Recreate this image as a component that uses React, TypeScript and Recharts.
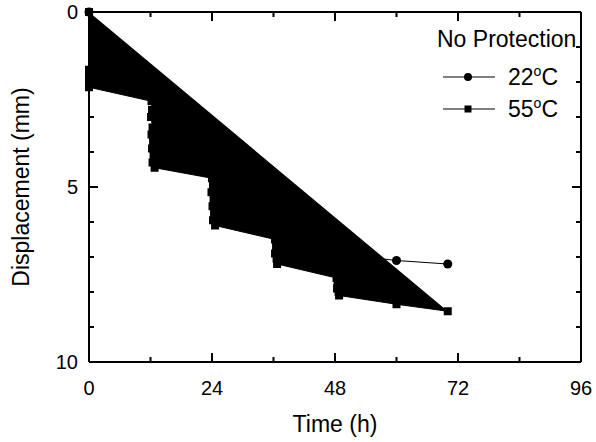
import React from 'react';
import { ScatterChart, Scatter, XAxis, YAxis, ZAxis, Legend } from 'recharts';

// 55 C run: dense readings at each 12 h step, then two late points
const time55 = [0, 0, 0, 0, 0, 0, 12.2, 12.3, 12.1, 12.4, 12.2, 12.5, 12.3, 12.6, 12.4, 12.8, 24.0, 24.2, 23.9, 24.3, 24.1, 24.4, 24.2, 24.6, 36.3, 36.5, 36.3, 36.6, 36.7, 48.3, 48.5, 48.4, 48.7, 48.8, 60, 70];
const disp55 = [0, 1.65, 1.75, 1.85, 2.0, 2.15, 2.55, 2.8, 3.0, 3.3, 3.5, 3.7, 3.9, 4.1, 4.3, 4.45, 4.75, 4.95, 5.15, 5.35, 5.55, 5.75, 5.95, 6.1, 6.5, 6.7, 6.9, 7.05, 7.2, 7.6, 7.75, 7.9, 8.0, 8.1, 8.35, 8.55];

// 22 C run
const time22 = [0, 12, 24, 36, 48, 60, 70];
const disp22 = [0, 2.1, 4.0, 5.3, 6.9, 7.1, 7.2];

const xTicks = [0, 12, 24, 36, 48, 60, 72, 84, 96];
const xLabelTicks = [0, 24, 48, 72, 96];
const yTicks = [0, 1, 2, 3, 4, 5, 6, 7, 8, 9, 10];
const yLabelTicks = [0, 5, 10];

const legendTitle = 'No Protection';
const seriesTemps = ['22', '55'];

const data55 = time55.map((t, i) => ({ t, d: disp55[i] }));
const data22 = time22.map((t, i) => ({ t, d: disp22[i] }));

const FONT = '"Liberation Sans", Arial, Helvetica, sans-serif';
const BOTTOM_MARGIN = 19;
const LEFT_MARGIN = 11;

const BottomTick = ({ x, y, payload }: any) => {
  const v = payload.value;
  const major = xLabelTicks.includes(v);
  const ay = y - BOTTOM_MARGIN;
  return (
    <g>
      <line x1={x} x2={x} y1={ay} y2={ay - (major ? 9 : 5)} stroke="#000" strokeWidth={2} />
      {major && (
        <text x={x} y={y} dy="0.71em" textAnchor="middle" fontSize={20} fontFamily={FONT} fill="#000">
          {v}
        </text>
      )}
    </g>
  );
};

const TopTick = ({ x, y, payload }: any) => {
  const major = xLabelTicks.includes(payload.value);
  return <line x1={x} x2={x} y1={y} y2={y + (major ? 9 : 5)} stroke="#000" strokeWidth={2} />;
};

const LeftTick = ({ x, y, payload }: any) => {
  const v = payload.value;
  const major = yLabelTicks.includes(v);
  const ax = x + LEFT_MARGIN;
  return (
    <g>
      <line x1={ax} x2={ax + (major ? 9 : 5)} y1={y} y2={y} stroke="#000" strokeWidth={2} />
      {major && (
        <text x={x} y={y} dy="0.355em" textAnchor="end" fontSize={20} fontFamily={FONT} fill="#000">
          {v}
        </text>
      )}
    </g>
  );
};

const RightTick = ({ x, y, payload }: any) => {
  const major = yLabelTicks.includes(payload.value);
  return <line x1={x} x2={x - (major ? 9 : 5)} y1={y} y2={y} stroke="#000" strokeWidth={2} />;
};

const LegendBox = () => (
  <div style={{ fontFamily: FONT, fontSize: 23, color: '#000' }}>
    <div style={{ height: 26, lineHeight: '26px', whiteSpace: 'nowrap' }}>{legendTitle}</div>
    <div style={{ marginTop: 9 }}>
      {seriesTemps.map((temp, i) => (
        <div key={temp} style={{ display: 'flex', alignItems: 'center', height: 32 }}>
          <svg width={60} height={14}>
            <line x1={6} x2={58} y1={7} y2={7} stroke="#000" strokeWidth={1.2} />
            {i === 0 ? <circle cx={31} cy={7} r={4} fill="#000" /> : <rect x={27.5} y={3.5} width={7} height={7} fill="#000" />}
          </svg>
          <span style={{ marginLeft: 11, lineHeight: '26px', whiteSpace: 'nowrap' }}>
            {temp}
            <sup style={{ fontSize: 14, lineHeight: 0 }}>o</sup>C
          </span>
        </div>
      ))}
    </div>
  </div>
);

export default function App() {
  return (
    <div>
      <style>{'body{margin:0}'}</style>
      <ScatterChart width={596} height={442} margin={{ top: 11, right: 14, bottom: 0, left: 0 }}>
        <XAxis
          dataKey="t"
          type="number"
          domain={[0, 96]}
          ticks={xTicks}
          interval={0}
          height={80}
          tickSize={0}
          tickMargin={BOTTOM_MARGIN}
          tickLine={false}
          tick={<BottomTick />}
          axisLine={{ stroke: '#000', strokeWidth: 2 }}
          label={{ value: 'Time (h)', position: 'insideBottom', offset: 10, fontSize: 23, fontFamily: FONT, fill: '#000' }}
        />
        <XAxis
          xAxisId="top"
          orientation="top"
          dataKey="t"
          type="number"
          domain={[0, 96]}
          ticks={xTicks}
          interval={0}
          height={1}
          tickSize={0}
          tickMargin={0}
          tickLine={false}
          tick={<TopTick />}
          axisLine={{ stroke: '#000', strokeWidth: 2 }}
        />
        <YAxis
          dataKey="d"
          type="number"
          reversed
          domain={[0, 10]}
          ticks={yTicks}
          interval={0}
          width={89}
          tickSize={0}
          tickMargin={LEFT_MARGIN}
          tickLine={false}
          tick={<LeftTick />}
          axisLine={{ stroke: '#000', strokeWidth: 2 }}
          label={{
            value: 'Displacement (mm)',
            angle: -90,
            position: 'insideLeft',
            offset: 21,
            fontSize: 23,
            fontFamily: FONT,
            fill: '#000',
            style: { textAnchor: 'middle' },
          }}
        />
        <YAxis
          yAxisId="right"
          orientation="right"
          dataKey="d"
          type="number"
          reversed
          domain={[0, 10]}
          ticks={yTicks}
          interval={0}
          width={1}
          tickSize={0}
          tickMargin={0}
          tickLine={false}
          tick={<RightTick />}
          axisLine={{ stroke: '#000', strokeWidth: 2 }}
        />
        <ZAxis range={[50, 50]} />
        <Scatter
          name="55"
          data={data55}
          shape="square"
          fill="#000"
          line={{ stroke: '#000', strokeWidth: 1, fill: '#000' }}
          lineType="joint"
          isAnimationActive={false}
        />
        <Scatter
          name="22"
          data={data22}
          xAxisId="top"
          yAxisId="right"
          shape="circle"
          fill="#000"
          line={{ stroke: '#000', strokeWidth: 1.2 }}
          lineType="joint"
          isAnimationActive={false}
        />
        <Legend
          layout="vertical"
          align="center"
          verticalAlign="middle"
          wrapperStyle={{ position: 'absolute', left: 437, top: 26, width: 159 }}
          content={<LegendBox />}
        />
      </ScatterChart>
    </div>
  );
}
